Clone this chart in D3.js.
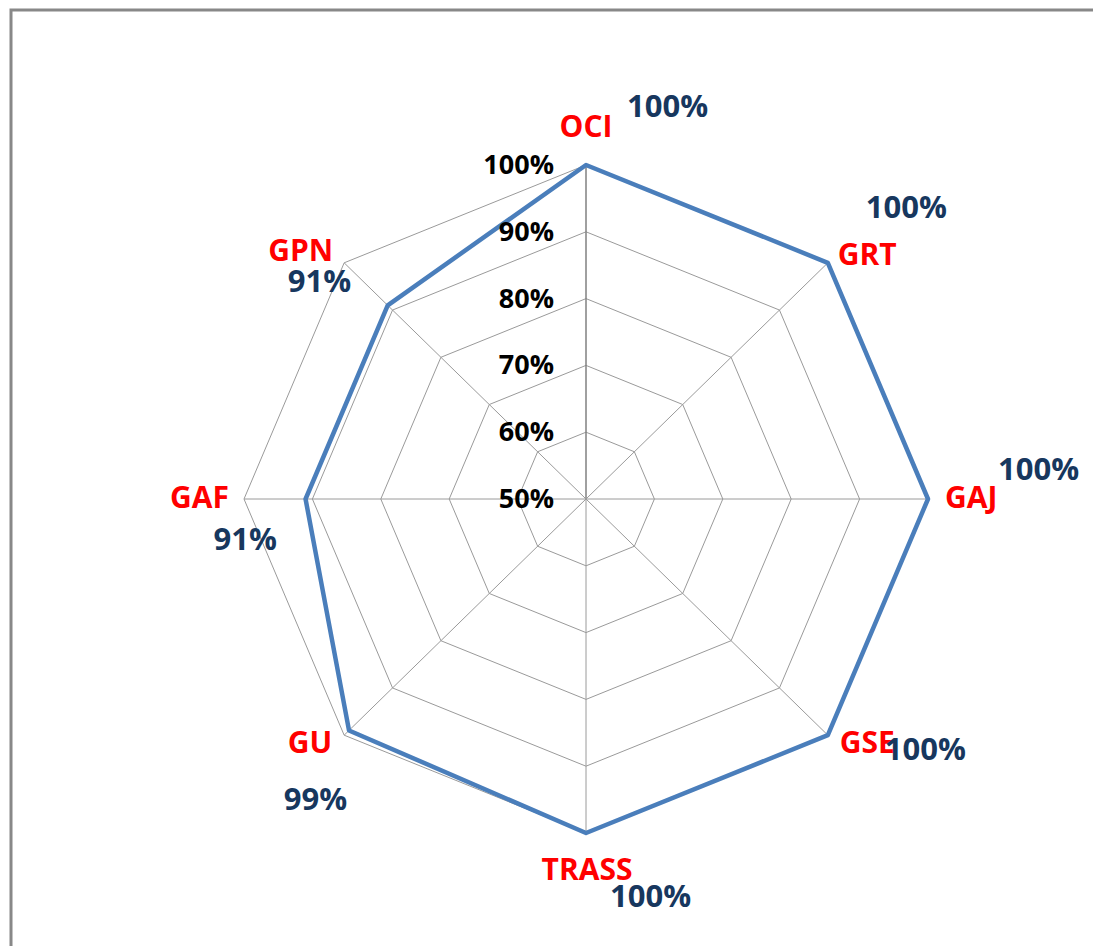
<!DOCTYPE html>
<html lang="en">
<head>
    <meta charset="UTF-8">
    <title>Radar</title>
    <script src="https://d3js.org/d3.v7.min.js"></script>
    <style>
        body { margin: 0; background: #fff; }
        svg { display: block; }
        text { font-family: "Open Sans", sans-serif; font-weight: bold; }
    </style>
</head>
<body>
    <div id="chart"></div>
    <script>
        const categories = ['OCI', 'GRT', 'GAJ', 'GSE', 'TRASS', 'GU', 'GAF', 'GPN'];
        const values = [100, 100, 100, 100, 100, 99, 91, 91];
        const ringTicks = [50, 60, 70, 80, 90, 100];

        // label offsets from each 100% vertex: [dx, dy, anchor] for name and value
        const nameOffsets = [[0, -28, 'middle'], [10, 2, 'start'], [17, 9, 'start'], [12, 18, 'start'],
                             [1, 47, 'middle'], [-12, 18, 'end'], [-15, 9, 'end'], [-11, -2, 'end']];
        const valueOffsets = [[41, -48, 'start'], [38, -45, 'start'], [70, -19, 'start'], [57, 25, 'start'],
                              [24, 74, 'start'], [3, 75, 'end'], [33, 51, 'end'], [7, 29, 'end']];

        const width = 1093;
        const height = 946;
        const cx = 586, cy = 499;
        const rx = 342, ry = 334;

        const svg = d3.select('#chart').append('svg')
            .attr('width', width)
            .attr('height', height);

        // outer frame, clipped at right and bottom
        svg.append('rect')
            .attr('x', 11).attr('y', 10)
            .attr('width', 1200).attr('height', 1000)
            .attr('fill', 'none')
            .attr('stroke', '#888')
            .attr('stroke-width', 3);

        const r = d3.scaleLinear().domain([50, 100]).range([0, 1]);
        const xs = d3.scaleLinear().domain([-1, 1]).range([cx - rx, cx + rx]);
        const ys = d3.scaleLinear().domain([-1, 1]).range([cy + ry, cy - ry]);
        const angle = i => i * 2 * Math.PI / categories.length;
        const px = (i, v) => xs(r(v) * Math.sin(angle(i)));
        const py = (i, v) => ys(r(v) * Math.cos(angle(i)));

        const line = d3.line().x(d => d[0]).y(d => d[1]).curve(d3.curveLinearClosed);

        // rings
        svg.selectAll('.ring')
            .data(ringTicks.slice(1))
            .enter().append('path')
            .attr('class', 'ring')
            .attr('d', t => line(categories.map((c, i) => [px(i, t), py(i, t)])))
            .attr('fill', 'none')
            .attr('stroke', '#9a9a9a')
            .attr('stroke-width', 1);

        // spokes
        svg.selectAll('.spoke')
            .data(categories)
            .enter().append('line')
            .attr('class', 'spoke')
            .attr('x1', cx).attr('y1', cy)
            .attr('x2', (c, i) => px(i, 100))
            .attr('y2', (c, i) => py(i, 100))
            .attr('stroke', (c, i) => i === 0 ? '#808080' : '#9a9a9a')
            .attr('stroke-width', (c, i) => i === 0 ? 1.5 : 1);

        // data line
        svg.append('path')
            .attr('d', line(values.map((v, i) => [px(i, v), py(i, v)])))
            .attr('fill', 'none')
            .attr('stroke', '#4a7ebb')
            .attr('stroke-width', 4.5)
            .attr('stroke-linejoin', 'round');

        // tick labels
        svg.selectAll('.tick')
            .data(ringTicks)
            .enter().append('text')
            .attr('class', 'tick')
            .attr('x', 554)
            .attr('y', t => py(0, t) + 9)
            .attr('text-anchor', 'end')
            .attr('font-size', 27)
            .attr('fill', '#000')
            .text(t => t + '%');

        // category names
        svg.selectAll('.name')
            .data(categories)
            .enter().append('text')
            .attr('class', 'name')
            .attr('x', (c, i) => px(i, 100) + nameOffsets[i][0])
            .attr('y', (c, i) => py(i, 100) + nameOffsets[i][1])
            .attr('text-anchor', (c, i) => nameOffsets[i][2])
            .attr('font-size', 30)
            .attr('fill', '#ff0000')
            .text(c => c);

        // value labels
        svg.selectAll('.val')
            .data(values)
            .enter().append('text')
            .attr('class', 'val')
            .attr('x', (v, i) => px(i, 100) + valueOffsets[i][0])
            .attr('y', (v, i) => py(i, 100) + valueOffsets[i][1])
            .attr('text-anchor', (v, i) => valueOffsets[i][2])
            .attr('font-size', 31)
            .attr('fill', '#17375e')
            .text(v => v + '%');
    </script>
</body>
</html>
